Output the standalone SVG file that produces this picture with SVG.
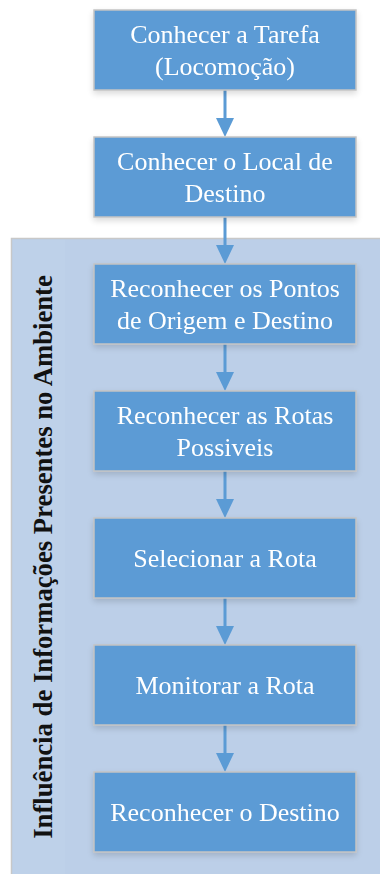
<svg xmlns="http://www.w3.org/2000/svg" width="380" height="874" viewBox="0 0 380 874">
<style>
.box{fill:#5b9bd5;stroke:#c4c4c4;stroke-width:1.5}
.t{font-family:"Liberation Serif","Times New Roman",serif;font-size:26px;fill:#ffffff;text-anchor:middle}
.cn line{stroke:#5b9bd5;stroke-width:3}
.side{font-family:"Liberation Serif","Times New Roman",serif;font-size:26.7px;font-weight:bold;fill:#111111;text-anchor:middle}
</style>
<defs>
<marker id="ah" markerWidth="19" markerHeight="18" refX="0" refY="9" orient="auto" markerUnits="userSpaceOnUse" viewBox="0 0 19 18">
<path d="M0,0 L19,9 L0,18 Z" fill="#5b9bd5"/>
</marker>
<filter id="sh" x="-10%" y="-20%" width="120%" height="150%">
<feGaussianBlur in="SourceAlpha" stdDeviation="3"/>
<feOffset dy="3"/>
<feComponentTransfer><feFuncA type="linear" slope="0.15"/></feComponentTransfer>
<feMerge><feMergeNode/><feMergeNode in="SourceGraphic"/></feMerge>
</filter>
</defs>
<rect width="380" height="874" fill="#ffffff"/>
<g id="container">
<rect x="11.5" y="238.5" width="380" height="650" fill="#bccfe8" stroke="#c8c8c8" stroke-width="1.5"/>
<rect x="12.5" y="239.5" width="53" height="640" fill="#c0d2ea" opacity="0.6"/>
<text class="side" transform="translate(52,557) rotate(-90)">Influência de Informações Presentes no Ambiente</text>
</g>
<g class="cn" id="connectors">
<line x1="225" y1="90" x2="225" y2="118" marker-end="url(#ah)"/>
<line x1="225" y1="217" x2="225" y2="245" marker-end="url(#ah)"/>
<line x1="225" y1="344" x2="225" y2="372" marker-end="url(#ah)"/>
<line x1="225" y1="471" x2="225" y2="499" marker-end="url(#ah)"/>
<line x1="225" y1="598" x2="225" y2="626" marker-end="url(#ah)"/>
<line x1="225" y1="725" x2="225" y2="753" marker-end="url(#ah)"/>
</g>
<g id="n1" filter="url(#sh)"><rect class="box" x="94" y="10" width="262" height="80"/><text class="t" x="225" y="43">Conhecer a Tarefa</text><text class="t" x="225" y="75">(Locomoção)</text></g>
<g id="n2" filter="url(#sh)"><rect class="box" x="94" y="137" width="262" height="80"/><text class="t" x="225" y="170">Conhecer o Local de</text><text class="t" x="225" y="202">Destino</text></g>
<g id="n3" filter="url(#sh)"><rect class="box" x="94" y="264" width="262" height="80"/><text class="t" x="225" y="297">Reconhecer os Pontos</text><text class="t" x="225" y="329">de Origem e Destino</text></g>
<g id="n4" filter="url(#sh)"><rect class="box" x="94" y="391" width="262" height="80"/><text class="t" x="225" y="424">Reconhecer as Rotas</text><text class="t" x="225" y="456">Possiveis</text></g>
<g id="n5" filter="url(#sh)"><rect class="box" x="94" y="518" width="262" height="80"/><text class="t" x="225" y="567">Selecionar a Rota</text></g>
<g id="n6" filter="url(#sh)"><rect class="box" x="94" y="645" width="262" height="80"/><text class="t" x="225" y="694">Monitorar a Rota</text></g>
<g id="n7" filter="url(#sh)"><rect class="box" x="94" y="772" width="262" height="80"/><text class="t" x="225" y="821">Reconhecer o Destino</text></g>
</svg>
